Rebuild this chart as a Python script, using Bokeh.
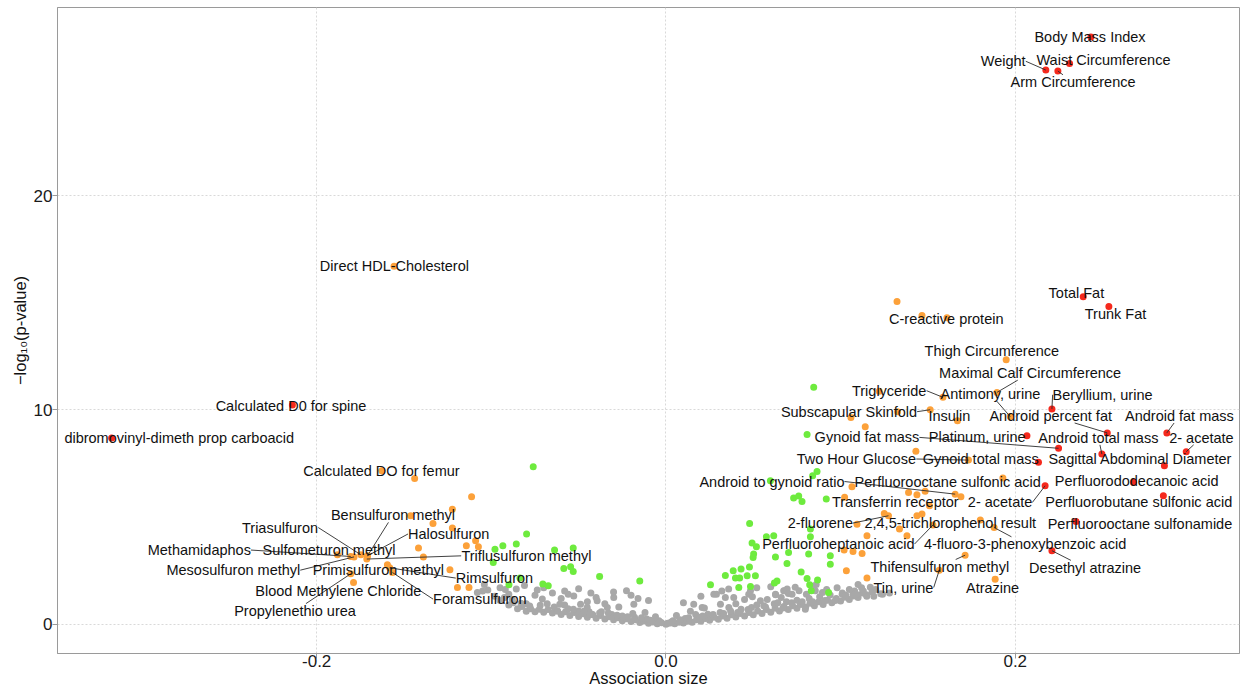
from bokeh.plotting import figure
from bokeh.models import FixedTicker, PrintfTickFormatter, Range1d
from bokeh.core.properties import value
from bokeh.embed import file_html
from bokeh.resources import INLINE

# ---------------- data ----------------
x_ticks = [-0.2, 0.0, 0.2]
y_ticks = [0, 10, 20]

gray_x = [
    -0.095, -0.090, -0.085, -0.080, -0.075, -0.070, -0.065, -0.060, -0.055, -0.050, -0.045,
    -0.040, -0.035, -0.030, -0.025, -0.020, -0.015, -0.010, -0.005, 0.000, 0.005, 0.010,
    0.015, 0.020, 0.025, 0.030, 0.035, 0.040, 0.045, 0.050, 0.055, 0.060, 0.065, 0.070,
    0.075, 0.080, 0.085, 0.090, 0.095, 0.100, 0.105, 0.110, 0.115,
    -0.0925, -0.0875, -0.0825, -0.0775, -0.0725, -0.0675, -0.0625, -0.0575, -0.0525, -0.0475,
    -0.0425, -0.0375, -0.0325, -0.0275, -0.0225, -0.0175, -0.0125, -0.0075, -0.0025, 0.0025,
    0.0075, 0.0125, 0.0175, 0.0225, 0.0275, 0.0325, 0.0375, 0.0425, 0.0475, 0.0525, 0.0575,
    0.0625, 0.0675, 0.0725, 0.0775, 0.0825, 0.0875, 0.0925, 0.0975, 0.1025, 0.1075, 0.1125,
    -0.090, -0.080, -0.072, -0.064, -0.056, -0.050, -0.044, -0.038, -0.031, -0.025, -0.018,
    -0.011, -0.004, 0.004, 0.011, 0.018, 0.024, 0.031, 0.037, 0.043, 0.049, 0.056, 0.062,
    0.069, 0.075, 0.082, 0.088, 0.094, 0.101, 0.108, 0.118,
    -0.1080, -0.1020, -0.0857, -0.0737, -0.0708, -0.0608, -0.0560, -0.0528, -0.0489, -0.0451,
    -0.0394, -0.0336, -0.0299, -0.0226, -0.0184, 0.0159, 0.0207, 0.0274, 0.0312, 0.0359,
    0.0388, 0.0484, 0.0541, 0.0627, 0.0674, 0.0694, 0.0722, 0.0770, 0.0798, 0.0846, 0.0289,
    0.0340, 0.0474, 0.0495,
    0.0628, 0.0680, 0.0701, 0.0762, 0.0804, 0.0855, 0.0896, 0.1009, 0.1071, 0.1147, -0.060,
    -0.045, -0.035, -0.027, -0.012, -0.006, 0.006, 0.014, 0.022, 0.040, 0.045, 0.058, 0.066,
    0.092, 0.098, 0.105, 0.112, 0.120, 0.124, -0.095, -0.075, -0.065, -0.040, -0.016, 0.123,
    0.128,
    -0.105, -0.098, -0.088, -0.083, -0.078, -0.068, -0.062, -0.058, -0.053, -0.047, -0.042,
    -0.037, -0.033, -0.028, -0.022, -0.019, -0.014, -0.009, -0.003, 0.001, 0.003, 0.008,
    0.013, 0.017, 0.021, 0.027, 0.033, 0.036, 0.041, 0.047, 0.052, 0.057, 0.064, 0.067,
    0.072, 0.078, 0.084, 0.091, 0.097, 0.103, 0.109, 0.113, 0.119,
    -0.104, -0.092, -0.081, -0.070, -0.058, -0.050, -0.043, -0.030, -0.020, -0.010, 0.010,
    0.020, 0.032, 0.052, 0.060, 0.074, 0.086, 0.110, 0.117,
]
gray_y = [
    1.10, 0.90, 0.72, 0.60, 0.58, 0.56, 0.52, 0.45, 0.40, 0.36, 0.32,
    0.28, 0.24, 0.20, 0.16, 0.12, 0.08, 0.04, 0.02, 0.00, 0.02, 0.05,
    0.09, 0.13, 0.18, 0.23, 0.28, 0.33, 0.38, 0.44, 0.50, 0.56, 0.62, 0.68,
    0.74, 0.80, 0.86, 0.92, 1.00, 1.08, 1.15, 1.24, 1.30,
    1.25, 1.00, 0.82, 0.72, 0.70, 0.68, 0.62, 0.58, 0.55, 0.48,
    0.45, 0.40, 0.35, 0.30, 0.25, 0.20, 0.15, 0.10, 0.06, 0.05,
    0.09, 0.14, 0.20, 0.26, 0.32, 0.38, 0.44, 0.50, 0.55, 0.62, 0.69,
    0.74, 0.82, 0.86, 0.93, 0.98, 1.05, 1.12, 1.20, 1.26, 1.32, 1.45,
    1.40, 0.95, 0.88, 0.80, 0.72, 0.62, 0.58, 0.52, 0.45, 0.38, 0.32,
    0.24, 0.16, 0.16, 0.26, 0.34, 0.46, 0.54, 0.62, 0.70, 0.78, 0.86, 0.95,
    1.05, 1.12, 1.20, 1.28, 1.36, 1.45, 1.55, 1.50,
    1.48, 1.59, 1.64, 1.59, 1.17, 0.93, 1.40, 1.32, 0.93, 0.78,
    1.09, 0.78, 1.24, 1.56, 0.93, 0.93, 0.78, 1.40, 0.93, 1.64,
    1.24, 1.56, 1.09, 1.40, 1.56, 1.64, 1.40, 0.93, 0.70, 1.64, 1.40,
    1.24, 1.40, 1.28,
    1.37, 1.56, 1.43, 1.56, 1.40, 1.56, 1.48, 1.40, 1.40, 1.37, 1.20,
    1.05, 0.95, 0.80, 0.55, 0.35, 0.40, 0.60, 0.75, 0.95, 1.15, 1.15, 1.25,
    1.62, 1.70, 1.62, 1.70, 1.62, 1.40, 1.70, 1.35, 1.45, 1.25, 1.20, 1.42,
    1.45,
    1.55, 1.30, 1.15, 0.98, 0.85, 0.95, 0.62, 0.90, 0.70, 0.60, 0.45,
    0.58, 0.52, 0.42, 0.35, 0.50, 0.30, 0.18, 0.08, 0.04, 0.10, 0.20,
    0.30, 0.45, 0.38, 0.45, 0.50, 0.78, 0.55, 0.68, 0.90, 0.80, 1.00, 0.75,
    1.00, 1.05, 1.05, 1.10, 1.10, 1.35, 1.40, 1.55, 1.30,
    1.85, 1.62, 1.80, 1.70, 1.55, 1.65, 1.45, 1.50, 1.35, 1.10, 1.00,
    1.30, 1.55, 1.70, 1.75, 1.72, 1.85, 1.85, 1.72,
]

green_x = [
    -0.0760, -0.0979, -0.0934, -0.0857, -0.0798, -0.0989, -0.0638, -0.0531, -0.0585, -0.0546,
    -0.0531, -0.0380, -0.0150, -0.0705, -0.0674, -0.0899, -0.0836,
    0.0846, 0.0808, 0.0865, 0.0840, 0.0598, 0.0731, 0.0760, 0.0779, 0.0918, 0.0479, 0.0575,
    0.0617, 0.0493, 0.0827, 0.0827, 0.0502, 0.0702, 0.0817, 0.0941, 0.0693, 0.0774, 0.0941,
    0.0636, 0.0868, 0.0832, 0.0931, 0.0255, 0.0340, 0.0385, 0.0430, 0.0478, 0.0398, 0.0422,
    0.0465, 0.0512, 0.0417, 0.0484, 0.0518, 0.0499, 0.0627, 0.0808, 0.0823, 0.0621,
]
green_y = [
    7.35, 3.50, 3.66, 3.74, 4.21, 2.88, 3.46, 3.55, 2.60, 2.68,
    2.46, 2.22, 2.02, 1.87, 1.79, 1.84, 2.15,
    11.06, 8.85, 7.13, 6.93, 6.70, 5.89, 5.98, 5.73, 5.84, 4.70, 4.08,
    4.13, 3.79, 4.44, 4.08, 3.27, 3.35, 3.27, 3.19, 2.83, 2.44, 2.80,
    2.02, 2.06, 1.56, 1.48, 1.84, 2.27, 2.49, 2.57, 2.67, 2.15, 2.15,
    2.26, 2.26, 1.71, 1.76, 3.61, 3.11, 3.14, 2.13, 1.84, 1.92,
]

orange_x = [
    0.1323, 0.1609, 0.1221, 0.1326, 0.1059, 0.1141, 0.1431, 0.1065, 0.1389, 0.1484,
    0.1689, 0.1023, 0.1509, 0.1250, 0.1437, 0.1466, 0.1094, 0.1151, 0.1337, 0.1380,
    0.1033, 0.1151, 0.1020, 0.1071, 0.1123,
    -0.1439, -0.1113, -0.1223, -0.1462, -0.1334, -0.1223, -0.1417, -0.1389, -0.1237,
    -0.1194, -0.1143, -0.1090, -0.1074, -0.1128,
]
orange_y = [
    15.06, 14.30, 10.87, 9.92, 9.65, 9.22, 8.07, 6.42, 6.15, 6.20,
    5.95, 5.92, 5.53, 5.17, 5.06, 5.14, 4.67, 4.13, 4.44, 4.13,
    2.49, 2.15, 3.46, 3.39, 3.30,
    6.80, 5.95, 5.37, 5.06, 4.70, 4.49, 3.55, 3.14, 2.54,
    1.71, 3.66, 3.89, 3.61, 1.71,
]

# labelled points: name, effect, -log10 p, group, label anchor (data units)
lab_name = [
    "Body Mass Index", "Waist Circumference", "Weight", "Arm Circumference", "Total Fat",
    "Trunk Fat", "C-reactive protein", "Thigh Circumference", "Maximal Calf Circumference",
    "Triglyceride", "Antimony, urine", "Beryllium, urine", "Subscapular Skinfold", "Insulin",
    "Android percent fat", "Android fat mass", "Gynoid fat mass", "Platinum, urine",
    "Android total mass", "2- acetate", "Two Hour Glucose", "Gynoid total mass",
    "Sagittal Abdominal Diameter", "Android to gynoid ratio", "Perfluorooctane sulfonic acid",
    "Perfluorododecanoic acid", "Transferrin receptor", "2- acetate",
    "Perfluorobutane sulfonic acid", "2-fluorene", "2,4,5-trichlorophenol result",
    "Perfluorooctane sulfonamide", "Perfluoroheptanoic acid", "4-fluoro-3-phenoxybenzoic acid",
    "Thifensulfuron methyl", "Desethyl atrazine", "Tin, urine", "Atrazine",
    "Direct HDL-Cholesterol", "Calculated D0 for spine", "dibromovinyl-dimeth prop carboacid",
    "Calculated DO for femur", "Bensulfuron methyl", "Triasulfuron", "Halosulfuron",
    "Methamidaphos", "Sulfometuron methyl", "Triflusulfuron methyl", "Mesosulfuron methyl",
    "Primisulfuron methyl", "Rimsulfuron", "Blood Methylene Chloride", "Foramsulfuron",
    "Propylenethio urea",
]
lab_x = [
    0.2433, 0.2311, 0.2175, 0.2244, 0.2389, 0.2536, 0.1466, 0.1948, 0.1895, 0.1586,
    0.1971, 0.2210, 0.1513, 0.1669, 0.2527, 0.2868, 0.2248, 0.2067, 0.2496, 0.2979,
    0.1732, 0.2133, 0.2854, 0.1656, 0.1929, 0.2677, 0.1437, 0.2171, 0.2848, 0.1274,
    0.1800, 0.2348, 0.1529, 0.1879, 0.1713, 0.2210, 0.1565, 0.1885,
    -0.1557, -0.2139, -0.3174, -0.1627, -0.1709, -0.1747, -0.1709, -0.1805, -0.1881,
    -0.1713, -0.1786, -0.1595, -0.1582, -0.1789, -0.1566, -0.1805,
]
lab_y = [
    27.41, 26.17, 25.87, 25.82, 15.28, 14.83, 14.41, 12.35, 10.82, 10.59,
    9.69, 10.05, 10.01, 9.50, 8.93, 8.93, 8.21, 8.80, 7.94, 8.05,
    7.66, 7.56, 7.40, 6.07, 6.82, 6.62, 6.04, 6.46, 6.00, 5.06,
    4.86, 4.79, 4.63, 4.51, 3.22, 3.43, 2.52, 2.10,
    16.71, 10.23, 8.69, 7.16, 3.19, 3.24, 3.19, 3.16, 3.24,
    3.04, 3.14, 2.77, 2.63, 1.94, 2.41, 2.35,
]
lab_group = [
    "red", "red", "red", "red", "red", "red", "orange", "orange", "orange", "orange",
    "orange", "red", "orange", "orange", "red", "red", "red", "red", "red", "red",
    "orange", "red", "red", "orange", "orange", "red", "orange", "red", "red", "orange",
    "orange", "red", "orange", "orange", "orange", "red", "orange", "orange",
    "orange", "red", "red", "orange", "orange", "orange", "orange", "orange", "orange",
    "orange", "orange", "orange", "orange", "orange", "orange", "orange",
]
lab_tx = [
    0.2428, 0.2505, 0.1931, 0.2331, 0.2350, 0.2574, 0.1605, 0.1866, 0.2085, 0.1278,
    0.1858, 0.2500, 0.1048, 0.1623, 0.2203, 0.2940, 0.1151, 0.1782, 0.2476, 0.3066,
    0.1090, 0.1802, 0.2716, 0.0607, 0.1613, 0.2695, 0.1313, 0.1913, 0.2707, 0.0884,
    0.1628, 0.2714, 0.0987, 0.2056, 0.1568, 0.2400, 0.1360, 0.1870,
    -0.1555, -0.2147, -0.2787, -0.1629, -0.1563, -0.2210, -0.1244, -0.2672, -0.1929,
    -0.0799, -0.2477, -0.1647, -0.0982, -0.1876, -0.1066, -0.2124,
]
lab_ty = [
    27.41, 26.32, 26.28, 25.31, 15.48, 14.49, 14.25, 12.77, 11.73, 10.90,
    10.75, 10.71, 9.92, 9.73, 9.73, 9.73, 8.72, 8.72, 8.71, 8.71,
    7.71, 7.71, 7.69, 6.66, 6.66, 6.70, 5.68, 5.68, 5.68, 4.72,
    4.72, 4.67, 3.74, 3.74, 2.68, 2.64, 1.71, 1.71,
    16.71, 10.20, 8.69, 7.13, 5.09, 4.51, 4.21, 3.46, 3.46,
    3.19, 2.52, 2.52, 2.15, 1.56, 1.17, 0.62,
]

# ---------------- styling / layout ----------------
X0, X1 = -0.3484, 0.3284
Y0, Y1 = -1.37, 28.79
W, H = 1242, 690
BL, BR, BT, BB = 57, 3, 7, 37
FONT = "Liberation Sans"
LABEL_FS = 14.5

COL = {"gray": "#A8A8A8", "green": "#6EEB3E", "orange": "#FCA13A", "red": "#F5291D"}

p = figure(width=W, height=H, output_backend="svg", toolbar_location=None,
           x_range=Range1d(X0, X1), y_range=Range1d(Y0, Y1),
           min_border_left=BL, min_border_right=BR, min_border_top=BT, min_border_bottom=BB)
p.background_fill_color = "white"
p.border_fill_color = "white"
p.outline_line_color = "#9a9a9a"
p.outline_line_width = 1

for ax in (p.xaxis[0], p.yaxis[0]):
    ax.axis_line_color = "#9a9a9a"
    ax.major_tick_line_color = "#9a9a9a"
    ax.major_tick_out = 5
    ax.major_tick_in = 0
    ax.minor_tick_line_color = None
    ax.major_label_text_font = FONT
    ax.major_label_text_font_size = "17px"
    ax.major_label_text_color = "#1a1a1a"
    ax.axis_label_text_font = FONT
    ax.axis_label_text_font_size = "16.5px"
    ax.axis_label_text_font_style = "normal"
    ax.axis_label_text_color = "#111111"

p.xaxis.ticker = FixedTicker(ticks=x_ticks)
p.xaxis.formatter = PrintfTickFormatter(format="%.1f")
p.yaxis.ticker = FixedTicker(ticks=y_ticks)
p.xaxis.axis_label = "Association size"
p.yaxis.axis_label = "\u2212log\u2081\u2080(p-value)"
p.xaxis.major_label_standoff = -4
p.xaxis.axis_label_standoff = -1
p.yaxis.major_label_standoff = 0
p.yaxis.axis_label_standoff = 2

p.grid.grid_line_color = "#d9d9d9"
p.grid.grid_line_dash = "2 2"
p.grid.grid_line_width = 1

# points
p.scatter(gray_x, gray_y, size=7, color=COL["gray"], line_color=None)
p.scatter(green_x, green_y, size=7, color=COL["green"], line_color=None)
p.scatter(orange_x, orange_y, size=7, color=COL["orange"], line_color=None)
lab_o = [i for i, g in enumerate(lab_group) if g == "orange"]
lab_r = [i for i, g in enumerate(lab_group) if g == "red"]
p.scatter([lab_x[i] for i in lab_o], [lab_y[i] for i in lab_o], size=7,
          color=COL["orange"], line_color=None)
p.scatter([lab_x[i] for i in lab_r], [lab_y[i] for i in lab_r], size=7,
          color=COL["red"], line_color=None)

# ---- connector segments (ggrepel-like) ----
CW = {' ': 278, ',': 278, '-': 333, '.': 278, '(': 333, ')': 333}
for c in "0123456789":
    CW[c] = 556
CW.update(dict(zip("ABCDEFGHIJKLMNOPQRSTUVWXYZ",
                   [667, 667, 722, 722, 667, 611, 778, 722, 278, 500, 667, 556, 833, 722, 778,
                    667, 778, 722, 667, 611, 722, 667, 944, 667, 667, 611])))
CW.update(dict(zip("abcdefghijklmnopqrstuvwxyz",
                   [556, 556, 500, 556, 556, 278, 556, 556, 222, 222, 500, 222, 833, 556, 556,
                    556, 556, 333, 500, 278, 556, 500, 722, 500, 500, 500])))

fw = W - BL - BR
fh = H - BT - BB
kx = fw / (X1 - X0)
ky = fh / (Y1 - Y0)

sx0, sy0, sx1, sy1 = [], [], [], []
for name, x, y, tx, ty in zip(lab_name, lab_x, lab_y, lab_tx, lab_ty):
    w = sum(CW.get(c, 556) for c in name) * LABEL_FS / 1000.0
    h = LABEL_FS
    px, py = x * kx, y * ky
    cx, cy = tx * kx, ty * ky
    left, right = cx - w / 2, cx + w / 2
    bot, top = cy - h / 2, cy + h / 2
    if left <= px <= right:
        if bot <= py <= top:
            continue
        t = (h / 2) / abs(py - cy)
        qx, qy = cx + (px - cx) * t, cy + (py - cy) * t
    else:
        qx = right if px > right else left
        qy = cy
    if ((qx - px) ** 2 + (qy - py) ** 2) ** 0.5 < 4:
        continue
    sx0.append(qx / kx); sy0.append(qy / ky)
    sx1.append(x); sy1.append(y)

p.segment(sx0, sy0, sx1, sy1, line_color="#2b2b2b", line_width=0.9)

p.text(lab_tx, lab_ty, text=lab_name, text_font=value(FONT), text_font_size=f"{LABEL_FS}px",
       text_align="center", text_baseline="middle", text_color="#111111")

open("out.html", "w").write(file_html(p, INLINE))
